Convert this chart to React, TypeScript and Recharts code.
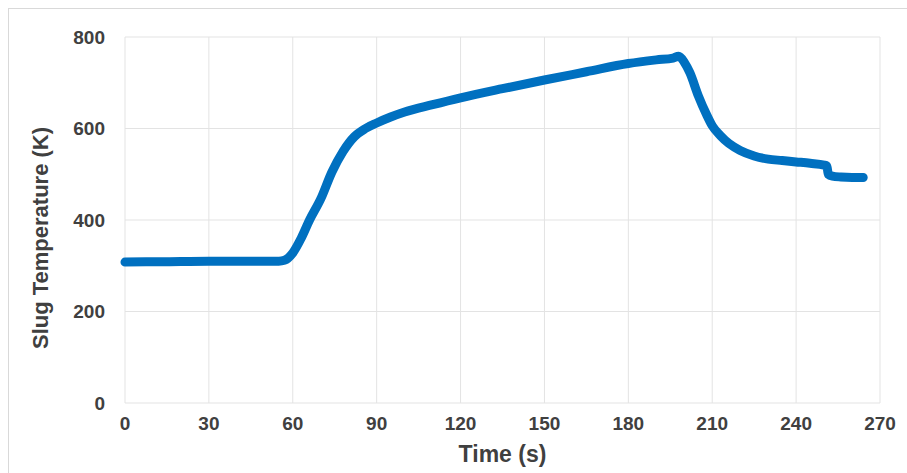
import { LineChart, Line, XAxis, YAxis, CartesianGrid } from "recharts";

// time (s) and slug temperature (K)
const time = [
  0, 15, 30, 45, 55, 57, 60, 63, 66, 70, 74, 78, 82, 86, 90, 95, 100, 110, 120,
  135, 150, 165, 180, 190, 196, 198, 200, 202, 205, 208, 210, 213, 216, 220,
  225, 230, 235, 240, 245, 250, 251, 251.5, 253, 256, 260, 264,
];
const temperature = [
  308, 309, 310, 310, 310, 312, 328, 360, 400, 446, 505, 550, 582, 600, 612,
  625, 636, 652, 667, 687, 706, 724, 742, 750, 754, 758, 745, 722, 672, 630,
  606, 584, 567, 552, 540, 533, 530, 527, 524, 520, 518, 500, 496, 494, 493,
  493,
];
const xTicks = [0, 30, 60, 90, 120, 150, 180, 210, 240, 270];
const yTicks = [0, 200, 400, 600, 800];

const data = time.map((t, i) => ({ t, temp: temperature[i] }));

const FONT = "'Liberation Sans', Arial, sans-serif";
const TEXT = "#404040";

const tickStyle = { fontFamily: FONT, fontSize: 19, fontWeight: 700, fill: TEXT };

const App = () => (
  <div style={{ position: "absolute", left: 0, top: 0, width: 907, height: 473, overflow: "hidden", background: "#fff" }}>
    <div
      style={{
        position: "absolute",
        left: 8,
        top: 8,
        width: 920,
        height: 500,
        border: "1px solid #d9d9d9",
      }}
    />
    <div style={{ position: "absolute", left: 0, top: 0 }}>
      <LineChart width={907} height={473} data={data} margin={{ top: 37, right: 27, bottom: 0, left: 0 }}>
        <CartesianGrid stroke="#e3e3e3" strokeWidth={1} />
        <XAxis
          dataKey="t"
          type="number"
          domain={[0, 270]}
          ticks={xTicks}
          height={70}
          axisLine={false}
          tickLine={false}
          tickSize={0}
          tickMargin={14}
          tick={tickStyle}
          label={{
            value: "Time (s)",
            position: "insideBottom",
            offset: 11,
            style: { fontFamily: FONT, fontSize: 23, fontWeight: 700, fill: TEXT },
          }}
        />
        <YAxis
          type="number"
          domain={[0, 800]}
          ticks={yTicks}
          width={125}
          axisLine={false}
          tickLine={false}
          tickSize={0}
          tickMargin={20}
          tick={tickStyle}
          label={{
            value: "Slug Temperature (K)",
            angle: -90,
            position: "insideLeft",
            offset: 40,
            dy: 18,
            style: { fontFamily: FONT, fontSize: 22, fontWeight: 700, fill: TEXT, textAnchor: "middle" },
          }}
        />
        <Line
          type="monotone"
          dataKey="temp"
          stroke="#0070c0"
          strokeWidth={9}
          dot={false}
          strokeLinecap="round"
          strokeLinejoin="round"
          isAnimationActive={false}
        />
      </LineChart>
    </div>
  </div>
);

export default App;
